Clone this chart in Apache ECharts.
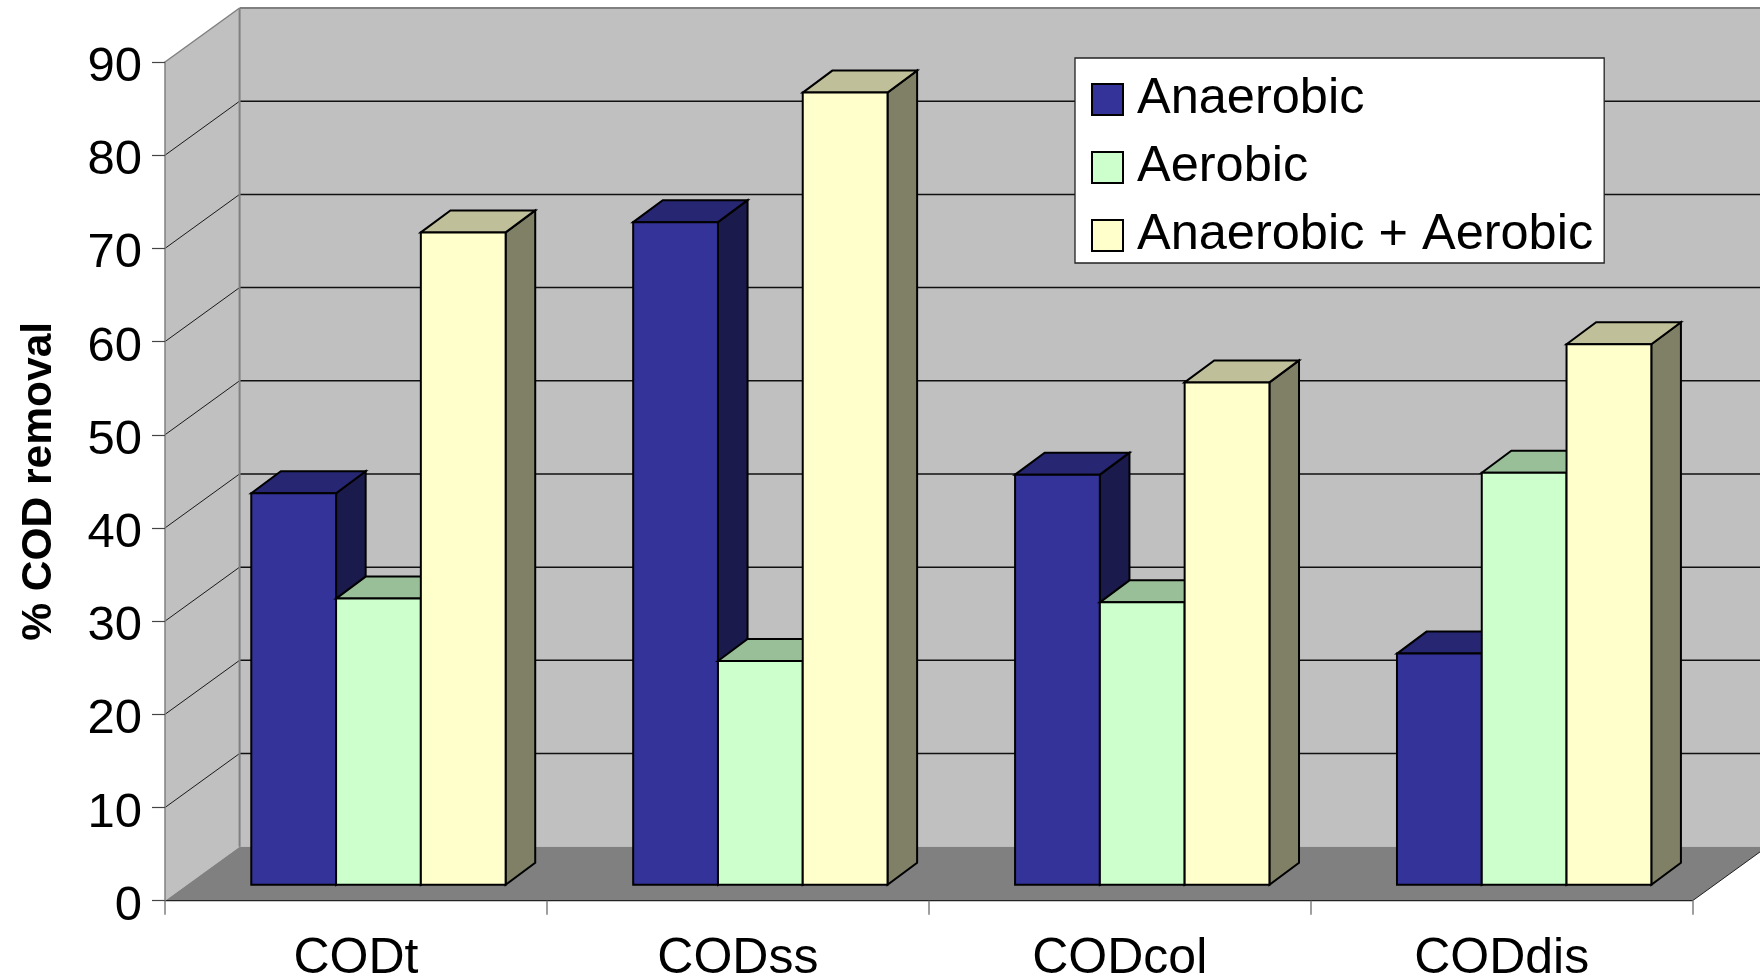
<!DOCTYPE html>
<html>
<head>
<meta charset="utf-8">
<style>html,body{margin:0;padding:0;background:#fff;overflow:hidden}#c{width:1760px;height:980px}</style>
<script src="https://cdn.jsdelivr.net/npm/echarts@6/dist/echarts.min.js"></script>
</head>
<body>
<div id="c"></div>
<script>
const categories = ['CODt', 'CODss', 'CODcol', 'CODdis'];
const yTicks = [0, 10, 20, 30, 40, 50, 60, 70, 80, 90];
const anaerobic = [42.0, 71.1, 44.0, 24.8];
const aerobic = [30.7, 24.0, 30.3, 44.2];
const combined = [70.0, 85.0, 53.9, 58.0];

const FONT = '"Liberation Sans", Arial, sans-serif';
const WALL = [74.6, -54];
const PLANE = [22.5, -16];
const DEPTH = [29.6, -22];
const BAR_FRACTION = 0.222;

function poly(points, fill, stroke, lw) {
  return { type: 'polygon', shape: { points }, style: { fill, stroke, lineWidth: lw } };
}
function line(x1, y1, x2, y2, stroke, lw) {
  return { type: 'line', shape: { x1, y1, x2, y2 }, style: { stroke, lineWidth: lw, fill: null } };
}

function renderFrame(params, api) {
  const cs = params.coordSys;
  const left = cs.x, right = cs.x + cs.width;
  const y0 = api.coord([0, 0])[1];
  const yTop = api.coord([0, 90])[1];
  const bx = left + WALL[0], wy = WALL[1];
  const kids = [
    poly([[bx, yTop + wy], [right + 200, yTop + wy], [right + 200, y0 + wy], [bx, y0 + wy]], '#C0C0C0', null, 0),
    poly([[left, yTop], [bx, yTop + wy], [bx, y0 + wy], [left, y0]], '#C0C0C0', null, 0),
    poly([[left, y0], [bx, y0 + wy], [right + WALL[0], y0 + wy], [right, y0]], '#808080', null, 0)
  ];
  yTicks.forEach(t => {
    const y = api.coord([0, t])[1];
    if (t > 0 && t < 90) {
      kids.push(line(left, y, bx, y + wy, '#1a1a1a', 1));
      kids.push(line(bx, y + wy, right + 200, y + wy, '#111', 1.5));
    }
  });
  kids.push(line(left, yTop, bx, yTop + wy, '#808080', 1.5));
  kids.push(line(bx, yTop + wy, bx, y0 + wy, '#808080', 2));
  kids.push(line(bx, yTop + wy, right + 200, yTop + wy, '#808080', 2));
  kids.push(line(left, y0, right, y0, '#222', 1.3));
  kids.push(line(right, y0, right + WALL[0], y0 + wy, '#222', 1));
  return { type: 'group', children: kids };
}

function barRenderer(index, front, top, side) {
  return function (params, api) {
    const band = api.size([1, 0])[0];
    const w = band * BAR_FRACTION;
    const c = api.coord([api.value(0), api.value(1)]);
    const b = api.coord([api.value(0), 0]);
    const x0 = c[0] + PLANE[0] + (index - 1.5) * w;
    const x1 = x0 + w;
    const yT = c[1] + PLANE[1];
    const yB = b[1] + PLANE[1];
    const dx = DEPTH[0], dy = DEPTH[1];
    return {
      type: 'group',
      children: [
        poly([[x1, yT], [x1 + dx, yT + dy], [x1 + dx, yB + dy], [x1, yB]], side, '#000', 2),
        poly([[x0, yT], [x0 + dx, yT + dy], [x1 + dx, yT + dy], [x1, yT]], top, '#000', 2),
        poly([[x0, yT], [x1, yT], [x1, yB], [x0, yB]], front, '#000', 2)
      ]
    };
  };
}

function rows(values) { return categories.map((_, i) => [i, values[i]]); }

function barSeries(name, values, index, front, top, side) {
  return {
    name, type: 'custom', z: 3 + index, clip: false,
    data: rows(values), encode: { x: 0, y: 1 },
    itemStyle: { color: front, borderColor: '#000', borderWidth: 2 },
    renderItem: barRenderer(index, front, top, side)
  };
}

const chart = echarts.init(document.getElementById('c'), null, { renderer: 'canvas', width: 1760, height: 980 });
chart.setOption({
  animation: false,
  backgroundColor: '#fff',
  grid: { left: 165, right: 67.4, top: 62, bottom: 79.3, containLabel: false, outerBoundsMode: 'none' },
  legend: {
    left: 1075, top: 58, orient: 'vertical', align: 'left', selectedMode: false,
    data: ['Anaerobic', 'Aerobic', 'Anaerobic + Aerobic'],
    icon: 'rect', itemWidth: 31, itemHeight: 31, itemGap: 17,
    padding: [16, 11, 2, 16],
    backgroundColor: '#fff', borderColor: '#222', borderWidth: 1.3, borderRadius: 0,
    textStyle: { fontFamily: FONT, fontSize: 50.5, color: '#000', lineHeight: 31, padding: [4, 0, 0, 9] }
  },
  xAxis: {
    type: 'category', data: categories, boundaryGap: true,
    axisLine: { show: false },
    axisTick: { show: true, length: 14, alignWithLabel: false, lineStyle: { color: '#808080', width: 1.5 } },
    axisLabel: { fontFamily: FONT, fontSize: 50, color: '#000', margin: 34 },
    z: 2
  },
  yAxis: {
    type: 'value', min: 0, max: 90, interval: 10,
    name: '% COD removal', nameLocation: 'middle', nameGap: 104, nameRotate: 90,
    nameTextStyle: { fontFamily: FONT, fontSize: 42.5, fontWeight: 'bold', color: '#000' },
    axisLine: { show: true, lineStyle: { color: '#808080', width: 1.5 } },
    axisTick: { show: true, length: 13, lineStyle: { color: '#444', width: 1.2 } },
    axisLabel: { fontFamily: FONT, fontSize: 49, color: '#000', margin: 23, verticalAlign: 'top', lineHeight: 11 },
    splitLine: { show: false },
    z: 2
  },
  series: [
    { name: 'frame', type: 'custom', z: 1, clip: false, silent: true, data: [[0, 0]], encode: { x: 0, y: 1 }, renderItem: renderFrame },
    barSeries('Anaerobic', anaerobic, 0, '#333399', '#262673', '#1A1A4D'),
    barSeries('Aerobic', aerobic, 1, '#CCFFCC', '#99BF99', '#668066'),
    barSeries('Anaerobic + Aerobic', combined, 2, '#FFFFCC', '#BFBF99', '#808066')
  ]
});
</script>
</body>
</html>
